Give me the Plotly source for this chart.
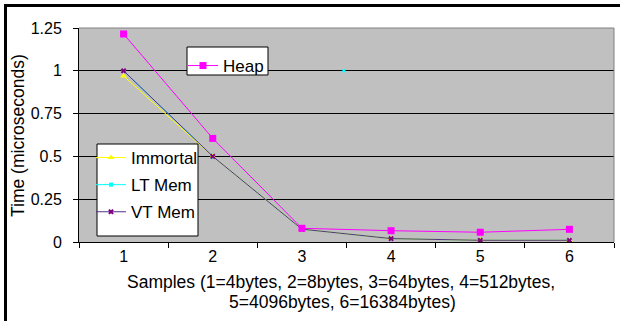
import plotly.graph_objects as go

samples = [1, 2, 3, 4, 5, 6]
heap = [1.215, 0.605, 0.08, 0.066, 0.057, 0.074]
immortal = [0.97, 0.5, 0.075, 0.02, 0.01, 0.01]
lt_mem = [1.0, 0.5, 0.075, 0.02, 0.01, 0.01]
vt_mem = [1.0, 0.5, 0.075, 0.02, 0.01, 0.01]
stray_x = [3.47]
stray_y = [1.0]
y_ticks = [0, 0.25, 0.5, 0.75, 1, 1.25]
y_labels = ["0", "0.25", "0.5", "0.75", "1", "1.25"]

W, H = 620, 321
L, R, T, B = 79, 6, 28, 79

font = "Liberation Sans, Arial, sans-serif"

fig = go.Figure()

fig.add_trace(go.Scatter(x=samples, y=lt_mem, name="LT Mem", mode="lines+markers",
                         line=dict(color="#00FFFF", width=1),
                         marker=dict(symbol="square", size=4, color="#00FFFF"),
                         legend="legend2", legendgroup="b", legendrank=2))
fig.add_trace(go.Scatter(x=samples, y=immortal, name="Immortal", mode="lines+markers",
                         line=dict(color="#FFFF00", width=1),
                         marker=dict(symbol="triangle-up", size=6, color="#FFFF00"),
                         legend="legend2", legendgroup="a", legendrank=1))
fig.add_trace(go.Scatter(x=samples, y=vt_mem, name="VT Mem", mode="lines+markers",
                         line=dict(color="#50308A", width=1),
                         marker=dict(symbol="x", size=5, color="#800080",
                                     line=dict(width=0)),
                         legend="legend2", legendgroup="c", legendrank=3))
fig.add_trace(go.Scatter(x=samples, y=heap, name="Heap", mode="lines+markers",
                         line=dict(color="#FF00FF", width=1),
                         marker=dict(symbol="square", size=7, color="#FF00FF"),
                         legend="legend"))
fig.add_trace(go.Scatter(x=stray_x, y=stray_y, mode="markers", showlegend=False,
                         marker=dict(symbol="square", size=3, color="#00FFFF")))

pw = W - L - R
ph = H - T - B
def px(x):
    return (x - L) / pw
def py(y):
    return 1 - (y - T) / ph

def box(x0, y0, x1, y1):
    return dict(type="rect", xref="paper", yref="paper", layer="above",
                x0=px(x0), x1=px(x1), y0=py(y0), y1=py(y1),
                fillcolor="white", line=dict(color="black", width=1))

fig.update_layout(
    width=W, height=H,
    margin=dict(l=L, r=R, t=T, b=B, autoexpand=False),
    paper_bgcolor="white",
    plot_bgcolor="#C0C0C0",
    font=dict(family=font, size=17, color="black"),
    legend=dict(x=px(183), y=py(48), xanchor="left", yanchor="top",
                bgcolor="rgba(0,0,0,0)", borderwidth=0,
                font=dict(size=17), tracegroupgap=0),
    legend2=dict(x=px(91), y=py(140), xanchor="left", yanchor="top",
                 bgcolor="rgba(0,0,0,0)", borderwidth=0,
                 font=dict(size=17), tracegroupgap=2, traceorder="grouped"),
    xaxis=dict(range=[0.5, 6.5], tickvals=samples, ticktext=[str(s) for s in samples],
               showgrid=False, zeroline=False, showline=True, linecolor="black",
               ticks="", tickfont=dict(size=16), automargin=False,
               minor=dict(tickvals=[0.5, 1.5, 2.5, 3.5, 4.5, 5.5, 6.5],
                          ticks="outside", ticklen=5, tickcolor="black")),
    yaxis=dict(range=[0, 1.25], tickvals=y_ticks, ticktext=y_labels,
               showgrid=True, gridcolor="black", gridwidth=1,
               zeroline=False, showline=True, linecolor="black",
               ticks="outside", ticklen=5, tickcolor="black",
               ticklabelstandoff=8, automargin=False,
               tickfont=dict(size=16)),
    annotations=[
        dict(text="Time (microseconds)", textangle=-90,
             xref="paper", yref="paper", x=px(18), y=py(136),
             xanchor="center", yanchor="middle", showarrow=False,
             font=dict(size=17.5)),
        dict(text="Samples (1=4bytes, 2=8bytes, 3=64bytes, 4=512bytes,",
             xref="paper", yref="paper", x=px(341), y=py(282),
             xanchor="center", yanchor="middle", showarrow=False,
             font=dict(size=17.5)),
        dict(text="5=4096bytes, 6=16384bytes)",
             xref="paper", yref="paper", x=px(342), y=py(302),
             xanchor="center", yanchor="middle", showarrow=False,
             font=dict(size=17.5)),
    ],
    shapes=[
        box(187, 47, 268, 75),
        box(97, 144, 198, 236),
        dict(type="line", xref="paper", yref="paper", x0=px(5.5), x1=px(5.5),
             y0=py(4), y1=py(330), line=dict(color="black", width=3)),
        dict(type="line", xref="paper", yref="paper", x0=px(4), x1=px(630),
             y0=py(5.5), y1=py(5.5), line=dict(color="black", width=3)),
        dict(type="line", xref="paper", yref="paper", x0=0, x1=1,
             y0=1, y1=1, line=dict(color="#808080", width=1)),
        dict(type="line", xref="paper", yref="paper", x0=1, x1=1,
             y0=0, y1=1, line=dict(color="#808080", width=1)),
    ],
)

fig.write_html("out.html", config={"displayModeBar": False},
               post_script="document.body.style.margin='0';"
                           "document.body.style.overflow='hidden';")
